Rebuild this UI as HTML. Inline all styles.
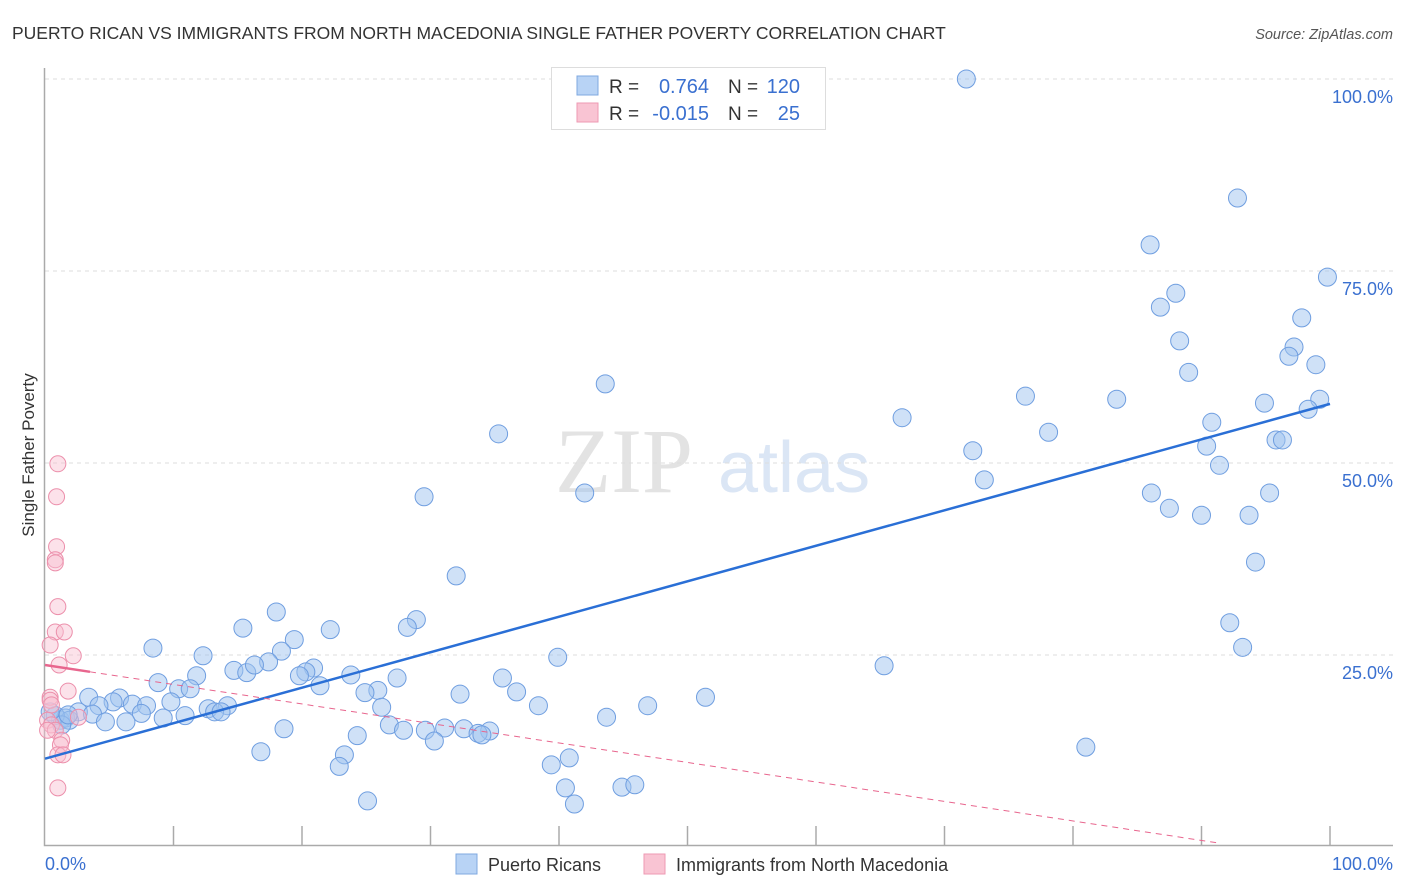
<!DOCTYPE html>
<html><head><meta charset="utf-8"><style>
body{margin:0;background:#fff;font-family:"Liberation Sans",sans-serif}
svg{display:block}
</style></head><body>
<svg id="chart" width="1406" height="892" viewBox="0 0 1406 892" font-family="Liberation Sans, sans-serif">
<text x="12" y="39" font-size="17.5" fill="#333">PUERTO RICAN VS IMMIGRANTS FROM NORTH MACEDONIA SINGLE FATHER POVERTY CORRELATION CHART</text>
<text x="1393" y="39" font-size="14.5" fill="#555" text-anchor="end" font-style="italic">Source: ZipAtlas.com</text>
<g>
<text x="555" y="492" font-size="92" font-family="Liberation Serif, serif" fill="#e3e3e3">ZIP</text>
<text x="718" y="492" font-size="72" fill="#dbe6f5">atlas</text>
</g>
<g id="grid"></g>
<g id="axes"></g>
<g id="pts"></g>
<g id="lines"></g>
<text transform="translate(34,455) rotate(-90)" font-size="17" fill="#333" text-anchor="middle">Single Father Poverty</text>
<g>
<rect x="551.5" y="67.5" width="274" height="62" fill="#fff" stroke="#ddd"/>
<rect x="577" y="76" width="21" height="19" fill="#b8d3f5" stroke="#7fa8e0"/>
<rect x="577" y="103" width="21" height="19" fill="#f9c4d3" stroke="#ee9ab3"/>
<text x="609" y="93" font-size="19" fill="#333">R =</text>
<text x="709" y="93" font-size="20" fill="#3a70d0" text-anchor="end">0.764</text>
<text x="728" y="93" font-size="19" fill="#333">N =</text>
<text x="800" y="93" font-size="20" fill="#3a70d0" text-anchor="end">120</text>
<text x="609" y="120" font-size="19" fill="#333">R =</text>
<text x="709" y="120" font-size="20" fill="#3a70d0" text-anchor="end">-0.015</text>
<text x="728" y="120" font-size="19" fill="#333">N =</text>
<text x="800" y="120" font-size="20" fill="#3a70d0" text-anchor="end">25</text>
</g>
<g>
<rect x="456" y="854" width="21" height="20" fill="#b8d3f5" stroke="#7fa8e0"/>
<text x="488" y="871" font-size="18" fill="#333">Puerto Ricans</text>
<rect x="644" y="854" width="21" height="20" fill="#f9c4d3" stroke="#ee9ab3"/>
<text x="676" y="871" font-size="18" fill="#333">Immigrants from North Macedonia</text>
</g>
<text x="45" y="870" font-size="18" fill="#3a70d0">0.0%</text>
<text x="1393" y="870" font-size="18" fill="#3a70d0" text-anchor="end">100.0%</text>
</svg>
<script>
const blueX=[71.7,92.8,86.0,99.8,88.0,86.8,97.8,88.3,97.2,96.8,98.9,89.0,43.6,76.3,83.4,99.2,94.9,98.3,66.7,90.8,78.1,35.3,95.8,96.3,90.4,72.2,91.4,73.1,42.0,86.1,95.3,29.5,87.5,90.0,93.7,32.0,94.2,18.0,28.9,28.2,92.2,15.4,22.2,19.4,8.4,93.2,18.4,12.3,39.9,17.4,65.3,14.7,15.7,11.8,16.3,20.9,20.3,19.8,23.8,35.6,27.4,8.8,10.4,21.4,11.3,25.9,24.9,36.7,32.3,3.4,51.4,5.8,5.3,9.8,6.8,7.9,26.2,38.4,46.9,4.2,12.7,14.2,13.2,13.7,7.5,10.9,2.6,3.7,9.2,4.7,6.3,43.7,26.8,31.1,32.6,27.9,18.6,29.6,34.6,33.7,34.0,24.3,30.3,81.0,23.3,16.8,40.8,39.4,22.9,40.5,44.9,45.9,41.2,25.1,1.2,1.6,1.9,0.8,1.3,0.4,1.8];
const blueY=[100,84.5,78.4,74.2,72.1,70.3,68.9,65.9,65.1,63.9,62.8,61.8,60.3,58.7,58.3,58.3,57.8,57.0,55.9,55.3,54.0,53.8,53.0,53.0,52.2,51.6,49.7,47.8,46.1,46.1,46.1,45.6,44.1,43.2,43.2,35.3,37.1,30.6,29.6,28.6,29.2,28.5,28.3,27.0,25.9,26.0,25.5,24.9,24.7,24.1,23.6,23.0,22.7,22.3,23.7,23.3,22.8,22.3,22.4,22.0,22.0,21.4,20.6,21.0,20.6,20.4,20.1,20.2,19.9,19.5,19.5,19.4,18.9,18.9,18.6,18.4,18.2,18.4,18.4,18.4,18.0,18.4,17.6,17.6,17.4,17.1,17.6,17.3,16.8,16.3,16.3,16.9,15.9,15.5,15.4,15.2,15.4,15.2,15.1,14.8,14.6,14.5,13.8,13.0,12.0,12.4,11.6,10.7,10.5,7.7,7.8,8.1,5.6,6.0,16.5,16.8,16.5,17.1,15.9,17.6,17.2];
const pinkX=[1.0,0.9,0.9,0.8,0.8,1.0,0.8,1.5,0.4,2.2,1.1,1.8,0.4,0.4,0.5,0.2,0.5,0.8,0.2,1.3,1.2,1.0,1.4,1.0,2.6];
const pinkY=[49.9,45.6,39.1,37.4,37.0,31.3,28.0,28.0,26.3,24.9,23.7,20.3,19.5,19.1,18.5,16.5,15.9,15.2,15.2,13.9,13.3,12.0,12.0,7.7,16.9];
const yTicks=[25,50,75,100];
const yTickLabels=["25.0%","50.0%","75.0%","100.0%"];
const blueTrend=[11.5,57.7];
const pinkTrend=[23.7,0.5];
const pinkTrendEnd=91.4;
const NS='http://www.w3.org/2000/svg';
const X0=45,X1=1330,Y0=847,Y1=79;
const sx=v=>X0+(X1-X0)*v/100, sy=v=>Y0-(Y0-Y1)*v/100;
function mk(tag,attrs,parent){const e=document.createElementNS(NS,tag);for(const k in attrs)e.setAttribute(k,attrs[k]);parent.appendChild(e);return e;}
const grid=document.getElementById('grid'),axes=document.getElementById('axes'),pts=document.getElementById('pts'),lines=document.getElementById('lines');
yTicks.forEach((t,i)=>{
 const l=mk('line',{x1:45,x2:1393,y1:sy(t),y2:sy(t),stroke:'#ddd','stroke-dasharray':'4,4'},grid);
 
 
 const tx=mk('text',{x:1393,y:sy(t)+24,'font-size':18,fill:'#3a70d0','text-anchor':'end'},grid);
 tx.textContent=yTickLabels[i];
 
 
});
const ax=mk('path',{d:'M44.5 68 V845.5 H1393',fill:'none',stroke:'#aaa','stroke-width':1.5},axes);


for(let i=1;i<=10;i++){
 const t=mk('line',{x1:sx(i*10),x2:sx(i*10),y1:826,y2:845,stroke:'#aaa','stroke-width':1.5},axes);
 
 
}
blueX.forEach((v,i)=>{
 const c=mk('circle',{cx:sx(v),cy:sy(blueY[i]),r:9,fill:'rgba(160,196,240,0.5)',stroke:'#6f9ee0','stroke-width':1},pts);
 
 
});
pinkX.forEach((v,i)=>{
 const c=mk('circle',{cx:sx(v),cy:sy(pinkY[i]),r:8,fill:'rgba(249,190,208,0.45)',stroke:'#ec8fab','stroke-width':1},pts);
 
 
});
const bl=mk('line',{x1:sx(0),y1:sy(blueTrend[0]),x2:sx(100),y2:sy(blueTrend[1]),stroke:'#2a6fd6','stroke-width':2.5},lines);


const pAt=x=>pinkTrend[0]+(pinkTrend[1]-pinkTrend[0])*x/pinkTrendEnd;
const pl1=mk('line',{x1:sx(0),y1:sy(pinkTrend[0]),x2:sx(3.5),y2:sy(pAt(3.5)),stroke:'#e8668e','stroke-width':2.5},lines);


const pl2=mk('line',{x1:sx(3.5),y1:sy(pAt(3.5)),x2:sx(pinkTrendEnd),y2:sy(pinkTrend[1]),stroke:'#e8668e','stroke-width':1,'stroke-dasharray':'6,5'},lines);


</script>
</body></html>
